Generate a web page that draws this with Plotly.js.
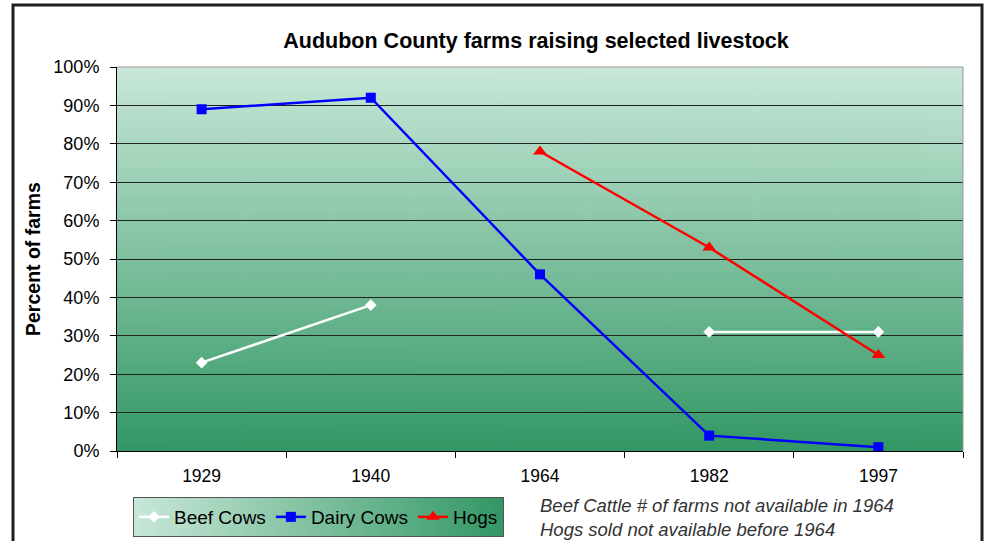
<!DOCTYPE html>
<html>
<head>
<meta charset="utf-8">
<script src="https://cdn.plot.ly/plotly-3.0.1.min.js"></script>
<style>html,body{margin:0;padding:0;background:#fff;}#chart{width:990px;height:541px;}</style>
</head>
<body>
<div id="chart"></div>
<script>
const years = ['1929', '1940', '1964', '1982', '1997'];
const beefCows = [23, 38, null, 31, 31];
const dairyCows = [89, 92, 46, 4, 1];
const hogs = [null, null, 78, 53, 25];
const yTicks = [0, 10, 20, 30, 40, 50, 60, 70, 80, 90, 100];
const yTickLabels = yTicks.map(v => v + '%');

function gradientImage(w, h, c1, c2, vertical) {
  const c = document.createElement('canvas');
  c.width = w; c.height = h;
  const ctx = c.getContext('2d');
  const g = vertical ? ctx.createLinearGradient(0, 0, 0, h) : ctx.createLinearGradient(0, 0, w, 0);
  g.addColorStop(0, c1);
  g.addColorStop(1, c2);
  ctx.fillStyle = g;
  ctx.fillRect(0, 0, w, h);
  return c.toDataURL('image/png');
}

const font = 'Liberation Sans, Arial, sans-serif';

const traces = [
  {x: years, y: beefCows, name: 'Beef Cows', type: 'scatter', mode: 'lines+markers',
   connectgaps: false, line: {color: '#ffffff', width: 2.5},
   marker: {symbol: 'diamond', size: 9, color: '#ffffff'}},
  {x: years, y: dairyCows, name: 'Dairy Cows', type: 'scatter', mode: 'lines+markers',
   connectgaps: false, line: {color: '#0000ff', width: 2.5},
   marker: {symbol: 'square', size: 10, color: '#0000ff'}},
  {x: years, y: hogs, name: 'Hogs', type: 'scatter', mode: 'lines+markers',
   connectgaps: false, line: {color: '#ff0000', width: 2.5},
   marker: {symbol: 'triangle-up', size: 12, color: '#ff0000'}}
];

const L = 117, R = 963, T = 67, B = 451, W = 990, H = 541;
const pw = R - L, ph = B - T;
const px = v => (v - L) / pw;
const py = v => (B - v) / ph;

const legendImg = gradientImage(366, 10, '#c9e8d9', '#329764', false);

const layout = {
  width: W, height: H,
  margin: {l: L, r: W - R, t: T, b: H - B, pad: 0, autoexpand: false},
  paper_bgcolor: '#ffffff',
  plot_bgcolor: 'rgba(0,0,0,0)',
  showlegend: true,
  title: {text: '<b>Audubon County farms raising selected livestock</b>',
          font: {family: font, size: 21.5, color: '#000'},
          x: 536 / W, xanchor: 'center', y: 1 - 40 / H, yanchor: 'middle'},
  xaxis: {type: 'category', tickson: 'boundaries', ticks: 'outside', ticklen: 6,
          tickcolor: '#000', showgrid: false, showline: true, linecolor: '#000', linewidth: 1,
          mirror: false, tickfont: {family: font, size: 17.5, color: '#000'}, ticklabelstandoff: 9,
          range: [-0.5, 4.5], fixedrange: true, zeroline: false},
  yaxis: {range: [0, 100], tickvals: yTicks, ticktext: yTickLabels, ticks: 'outside', ticklen: 6,
          tickcolor: '#000', showgrid: true, gridcolor: '#222', gridwidth: 1,
          showline: true, linecolor: '#000', linewidth: 1, zeroline: false,
          tickfont: {family: font, size: 18, color: '#000'}, ticklabelstandoff: 7},
  legend: {orientation: 'h', x: px(133), xanchor: 'left', y: py(497), yanchor: 'top',
           bgcolor: 'rgba(0,0,0,0)', bordercolor: '#555', borderwidth: 1,
           font: {family: font, size: 19, color: '#000'}, itemwidth: 30, tracegroupgap: 0},
  images: [
    {source: gradientImage(10, 384, '#c9e8d9', '#329764', true), xref: 'paper', yref: 'paper',
     x: 0, y: 1, sizex: 1, sizey: 1, sizing: 'stretch', layer: 'below', xanchor: 'left', yanchor: 'top'}
  ],
  shapes: [
    {type: 'line', xref: 'paper', yref: 'paper', x0: 0, x1: 1, y0: 1, y1: 1, line: {color: '#999', width: 1}},
    {type: 'line', xref: 'paper', yref: 'paper', x0: 1, x1: 1, y0: 0, y1: 1, line: {color: '#999', width: 1}},
    {type: 'rect', xref: 'paper', yref: 'paper', x0: px(13), x1: px(982), y0: py(5), y1: py(580),
     line: {color: '#231f20', width: 3}, fillcolor: 'rgba(0,0,0,0)', layer: 'above'}
  ],
  annotations: [
    {text: '<b>Percent of farms</b>', textangle: -90, xref: 'paper', yref: 'paper',
     x: px(33), y: py(259), xanchor: 'center', yanchor: 'middle', showarrow: false,
     font: {family: font, size: 19.5, color: '#000'}},
    {text: '<i>Beef Cattle # of farms not available in 1964<br>Hogs sold not available before 1964</i>',
     xref: 'paper', yref: 'paper', x: px(538), y: py(493), xanchor: 'left', yanchor: 'top',
     align: 'left', showarrow: false, font: {family: font, size: 18.5, color: '#333'}}
  ]
};

const gd = document.getElementById('chart');
Plotly.newPlot(gd, traces, layout, {displayModeBar: false, staticPlot: true}).then(() => {
  const bg = gd.querySelector('.legend .bg');
  if (!bg) return;
  const r = bg.getBoundingClientRect();
  const g = gd.getBoundingClientRect();
  const x0 = r.left - g.left, x1 = r.right - g.left, y0 = r.top - g.top, y1 = r.bottom - g.top;
  const imgs = gd.layout.images.slice();
  imgs.push({source: legendImg, xref: 'paper', yref: 'paper', x: px(x0), y: py(y0),
             sizex: px(x1) - px(x0), sizey: py(y0) - py(y1), sizing: 'stretch',
             layer: 'below', xanchor: 'left', yanchor: 'top'});
  return Plotly.relayout(gd, {images: imgs});
});
</script>
</body>
</html>
